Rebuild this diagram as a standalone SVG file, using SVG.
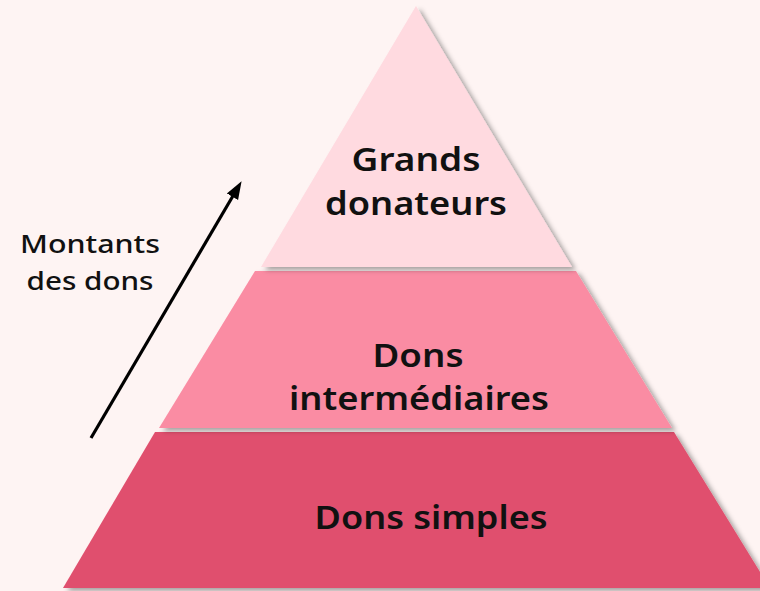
<svg xmlns="http://www.w3.org/2000/svg" width="760" height="591" viewBox="0 0 760 591">
  <style>
    .lbl { font-family: "Noto Sans", "Open Sans", "Liberation Sans", sans-serif; font-weight: 600; font-size: 32px; fill: #111111; text-anchor: middle; }
    .side { font-family: "Noto Sans", "Open Sans", "Liberation Sans", sans-serif; font-weight: 500; font-size: 25px; fill: #111111; text-anchor: middle; }
  </style>
  <defs>
    <filter id="sh" x="-10%" y="-10%" width="130%" height="130%">
      <feDropShadow dx="4" dy="3" stdDeviation="2.5" flood-color="#000000" flood-opacity="0.35"/>
    </filter>
    <marker id="ah" markerWidth="18" markerHeight="16" refX="9" refY="8" orient="auto" markerUnits="userSpaceOnUse" viewBox="0 0 18 16">
      <path d="M0,1.5 L18,8 L0,14.5 Z" fill="#000000"/>
    </marker>
  </defs>
  <rect width="760" height="591" fill="#FEF4F3"/>
  <g id="tier-bottom">
    <polygon points="155,432 674,432 770,588 63,588" fill="#E0506E" filter="url(#sh)"/>
    <text class="lbl" x="431" y="529" textLength="233" lengthAdjust="spacingAndGlyphs">Dons simples</text>
  </g>
  <g id="tier-middle">
    <polygon points="255,271 576,271 672,428 159,428" fill="#FA8CA3" filter="url(#sh)"/>
    <text class="lbl" x="418" y="367" textLength="91" lengthAdjust="spacingAndGlyphs">Dons</text>
    <text class="lbl" x="419" y="410" textLength="260" lengthAdjust="spacingAndGlyphs">intermédiaires</text>
  </g>
  <g id="tier-top">
    <polygon points="416,6 572,267 261,267" fill="#FFDAE0" filter="url(#sh)"/>
    <text class="lbl" x="416" y="171" textLength="129" lengthAdjust="spacingAndGlyphs">Grands</text>
    <text class="lbl" x="416" y="215" textLength="182" lengthAdjust="spacingAndGlyphs">donateurs</text>
  </g>
  <g id="label-montants">
    <text class="side" x="90" y="253" textLength="140" lengthAdjust="spacingAndGlyphs">Montants</text>
    <text class="side" x="90" y="290" textLength="127" lengthAdjust="spacingAndGlyphs">des dons</text>
  </g>
  <g id="connectors">
    <line x1="91" y1="438" x2="237" y2="189" stroke="#000000" stroke-width="3.2" marker-end="url(#ah)"/>
  </g>
</svg>
